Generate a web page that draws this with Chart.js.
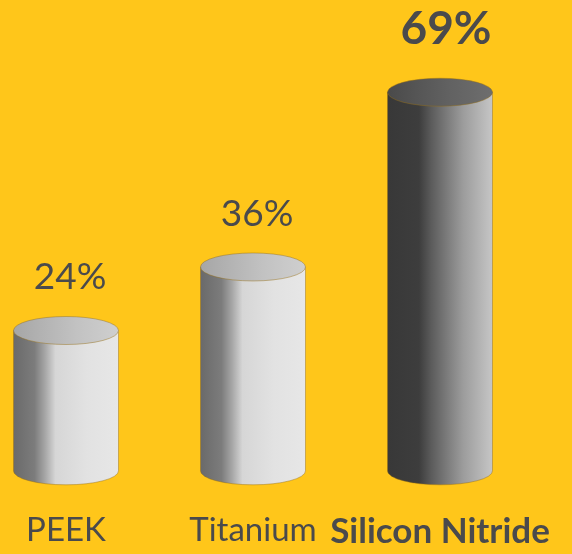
<!DOCTYPE html>
<html>
<head>
<meta charset="utf-8">
<script src="https://cdn.jsdelivr.net/npm/chart.js@4/dist/chart.umd.min.js"></script>
<style>
  html, body { margin: 0; padding: 0; background: #ffc61a; }
  #wrap { width: 572px; height: 554px; }
</style>
</head>
<body>
<div id="wrap"><canvas id="main-chart" width="572" height="554"></canvas></div>
<script>
// data
const materials = ['PEEK', 'Titanium', 'Silicon Nitride'];
const shares = [24, 36, 69];
const valueLabels = ['24%', '36%', '69%'];
const axisMin = -9.9;
const axisMax = 80;
const barFloor = -2.5;

// look
const textColor = '#4a4a4c';
const highlight = 2; // Silicon Nitride is the dark, bold one
const bodyStops = {
    light: [[0, '#6a6a6a'], [0.2, '#7c7c7c'], [0.3, '#a6a6a6'], [0.4, '#d6d6d6'], [0.7, '#e2e2e2'], [1, '#e7e7e7']],
    dark: [[0, '#383838'], [0.3, '#3d3d3d'], [0.42, '#5c5c5c'], [0.72, '#9c9c9c'], [1, '#c6c6c6']],
};
const topStops = {
    light: [[0, '#a6a6a6'], [0.6, '#c2c2c2'], [1, '#cfcfcf']],
    dark: [[0, '#4a4a4a'], [0.6, '#626262'], [1, '#6e6e6e']],
};

function grad(ctx, x0, x1, stops) {
    const g = ctx.createLinearGradient(x0, 0, x1, 0);
    stops.forEach(s => g.addColorStop(s[0], s[1]));
    return g;
}

const cylinders = {
    id: 'cylinders',
    afterDatasetsDraw(chart) {
        const ctx = chart.ctx;
        const meta = chart.getDatasetMeta(0);
        meta.data.forEach((bar, i) => {
            const { x, y, base, width } = bar.getProps(['x', 'y', 'base', 'width'], true);
            const rx = width / 2;
            const ry = 14;
            const left = x - rx, right = x + rx;
            const kind = i === highlight ? 'dark' : 'light';
            ctx.save();
            // body with bottom ellipse
            ctx.beginPath();
            ctx.moveTo(left, y);
            ctx.lineTo(left, base);
            ctx.ellipse(x, base, rx, ry, 0, Math.PI, 0, true);
            ctx.lineTo(right, y);
            ctx.closePath();
            ctx.fillStyle = grad(ctx, left, right, bodyStops[kind]);
            ctx.fill();
            ctx.strokeStyle = 'rgba(150,110,20,0.45)';
            ctx.lineWidth = 1;
            ctx.stroke();
            // top ellipse
            ctx.beginPath();
            ctx.ellipse(x, y, rx, ry, 0, 0, Math.PI * 2);
            ctx.fillStyle = grad(ctx, left, right, topStops[kind]);
            ctx.fill();
            ctx.stroke();
            // value label
            ctx.fillStyle = textColor;
            ctx.textAlign = 'center';
            ctx.textBaseline = 'middle';
            ctx.font = i === highlight ? 'bold 46px Lato' : '37px Lato';
            ctx.fillText(valueLabels[i], x + (i === highlight ? 6 : 4), y - (i === highlight ? 63 : 53));
            ctx.restore();
        });
    }
};

new Chart(document.getElementById('main-chart'), {
    type: 'bar',
    data: {
        labels: materials,
        datasets: [{
            data: shares,
            base: barFloor,
            backgroundColor: 'transparent',
            borderWidth: 0,
            barThickness: 105,
            clip: false,
        }],
    },
    options: {
        responsive: false,
        animation: false,
        layout: { padding: { left: 66, right: 132, top: 34, bottom: 0 } },
        plugins: {
            legend: { display: false },
            tooltip: { enabled: false },
        },
        scales: {
            x: {
                offset: false,
                grid: { display: false, drawTicks: false },
                border: { display: false },
                ticks: {
                    color: textColor,
                    padding: 1,
                    maxRotation: 0,
                    minRotation: 0,
                    autoSkip: false,
                    font: (c) => c.index === highlight
                        ? { family: 'Lato', size: 35, weight: 'bold' }
                        : { family: 'Lato', size: 33, weight: 'normal' },
                },
            },
            y: {
                display: false,
                min: axisMin,
                max: axisMax,
            },
        },
    },
    plugins: [cylinders],
});
</script>
</body>
</html>
